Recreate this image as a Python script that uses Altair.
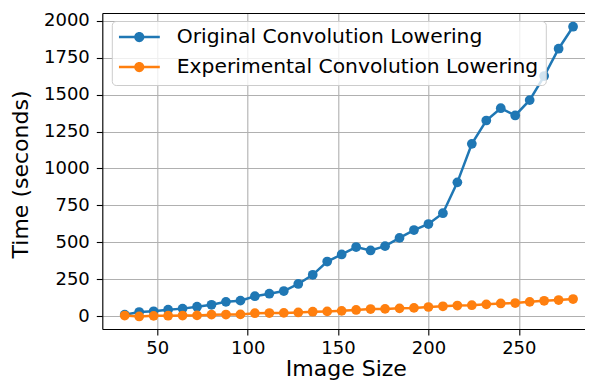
import altair as alt
import pandas as pd

# ---- data ----
image_size = [32, 40, 48, 56, 64, 72, 80, 88, 96, 104, 112, 120, 128, 136, 144, 152,
              160, 168, 176, 184, 192, 200, 208, 216, 224, 232, 240, 248, 256, 264, 272, 280]
original = [10, 28, 33, 44, 51, 64, 77, 97, 105, 135, 152, 170, 218, 280, 370, 418,
            468, 445, 474, 530, 583, 624, 697, 906, 1167, 1325, 1408, 1359, 1463, 1626, 1811, 1960]
experimental = [4, -2, 2, 3, 4, 5, 10, 11, 12, 20, 21, 22, 25, 30, 32, 36,
                42, 48, 49, 53, 56, 62, 67, 72, 74, 80, 86, 89, 97, 104, 109, 116]
series_names = ["Original Convolution Lowering", "Experimental Convolution Lowering"]
series_colors = ["#1f77b4", "#ff7f0e"]
x_ticks = [50, 100, 150, 200, 250]
y_ticks = [0, 250, 500, 750, 1000, 1250, 1500, 1750, 2000]

rows = []
for s, vals in zip(series_names, [original, experimental]):
    for x, v in zip(image_size, vals):
        rows.append({"size": x, "time": v, "series": s})
df = pd.DataFrame(rows)

FONT = "DejaVu Sans"
x_scale = alt.Scale(domain=[19.6, 286.6], nice=False, zero=False)
y_scale = alt.Scale(domain=[-87, 2053], nice=False, zero=False)
color_scale = alt.Scale(domain=series_names, range=series_colors)

x_axis = alt.Axis(values=x_ticks, format="d", title="Image Size", labelFont=FONT,
                  labelFontSize=18, labelColor="black", tickSize=6, tickColor="black",
                  tickWidth=1.1, labelPadding=4, domain=True, domainColor="black",
                  domainWidth=1.1, grid=True, gridColor="#b0b0b0", gridWidth=1.1,
                  titleFont=FONT, titleFontSize=22, titleFontWeight="normal",
                  titleColor="black", titleBaseline="alphabetic", titleAlign="center",
                  titleX=243.5, titleY=46)
y_axis = alt.Axis(values=y_ticks, format="d", title="Time (seconds)", labelFont=FONT,
                  labelFontSize=18, labelColor="black", tickSize=6, tickColor="black",
                  tickWidth=1.1, labelPadding=7, domain=True, domainColor="black",
                  domainWidth=1.1, grid=True, gridColor="#b0b0b0", gridWidth=1.1,
                  titleFont=FONT, titleFontSize=22, titleFontWeight="normal",
                  titleColor="black", titleBaseline="alphabetic", titleAngle=270,
                  titleAlign="center", titleX=-75, titleY=161)
top_axis = alt.Axis(orient="top", labels=False, ticks=False, title=None, grid=False,
                    domain=True, domainColor="black", domainWidth=1.1)

legend_path = ("M-1,-0.061L1,-0.061L1,0.061L-1,0.061Z "
               "M0.25,0A0.25,0.25 0 1,1 -0.25,0A0.25,0.25 0 1,1 0.25,0Z")
legend = alt.Legend(title=None, orient="none", legendX=9.5, legendY=8,
                    symbolType=legend_path, symbolSize=1681, symbolStrokeWidth=0,
                    symbolOpacity=1, labelFont=FONT, labelFontSize=20.3, labelColor="black",
                    labelOffset=17, labelLimit=600, padding=7, rowPadding=9, clipHeight=18,
                    fillColor="rgba(255,255,255,0.8)", strokeColor="#cccccc",
                    cornerRadius=4)

base = alt.Chart(df)
layers = []
for i, (s, c) in enumerate(zip(series_names, series_colors)):
    sub = base.transform_filter(alt.datum.series == s)
    line = sub.mark_line(strokeWidth=2.5, color=c).encode(
        x=alt.X("size:Q", scale=x_scale, axis=x_axis if i == 0 else None),
        y=alt.Y("time:Q", scale=y_scale, axis=y_axis),
    )
    pts = sub.mark_circle(size=95, opacity=1).encode(
        x=alt.X("size:Q", scale=x_scale, axis=top_axis if i == 0 else None),
        y=alt.Y("time:Q", scale=y_scale, axis=y_axis),
        color=alt.Color("series:N", scale=color_scale, legend=legend),
    )
    layers += [line, pts]

chart = alt.layer(*layers).resolve_axis(x="independent").properties(
    width=482.7, height=316,
    autosize=alt.AutoSizeParams(type="none"),
    padding={"left": 94.3, "top": 5, "right": 0, "bottom": 51},
).configure_view(stroke=None).configure(font=FONT)

chart.save("out.html", embed_options={"renderer": "svg", "actions": False})
